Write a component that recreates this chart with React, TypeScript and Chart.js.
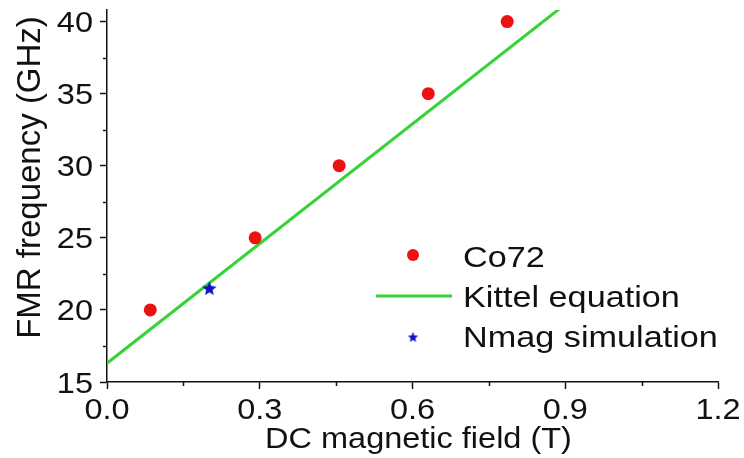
import React, { useEffect, useRef } from "react";
import { Chart, registerables } from "chart.js";

Chart.register(...registerables);

// Measured FMR resonance points for the Co72 sample
const co72Field = [0.085, 0.291, 0.456, 0.631, 0.786];
const co72Freq = [20, 25, 30, 35, 40];

// Kittel fit (straight line across the field range)
const kittelField = [0, 0.9];
const kittelFreq = [16.3, 41.2];

// Micromagnetic simulation point
const nmagField = [0.201];
const nmagFreq = [21.5];

const xTicks = [0, 0.3, 0.6, 0.9, 1.2];
const yTicks = [15, 20, 25, 30, 35, 40];

const seriesNames = ["Co72", "Kittel equation", "Nmag simulation"];
const xTitle = "DC magnetic field (T)";
const yTitle = "FMR frequency (GHz)";

const X_MIN = 0;
const X_MAX = 1.2;
const Y_MIN = 15;
const Y_MAX = 40.8;

const RED = "#ee1111";
const GREEN = "#36d336";
const BLUE = "#1010c8";
const INK = "#111111";
const FONT = '"Liberation Sans", Arial, sans-serif';

function starImage(outer: number, color: string): HTMLCanvasElement {
  const size = Math.ceil(outer * 2 + 2);
  const c = document.createElement("canvas");
  c.width = size;
  c.height = size;
  const g = c.getContext("2d")!;
  const cx = size / 2;
  const cy = size / 2 + outer * 0.08;
  const inner = outer * 0.45;
  g.beginPath();
  for (let i = 0; i < 10; i++) {
    const r = i % 2 === 0 ? outer : inner;
    const a = -Math.PI / 2 + (i * Math.PI) / 5;
    const px = cx + r * Math.cos(a);
    const py = cy + r * Math.sin(a);
    if (i === 0) g.moveTo(px, py);
    else g.lineTo(px, py);
  }
  g.closePath();
  g.fillStyle = color;
  g.fill();
  return c;
}

// Text drawn with a horizontal stretch factor
function drawText(
  ctx: CanvasRenderingContext2D,
  text: string,
  x: number,
  y: number,
  size: number,
  align: CanvasTextAlign,
  sx: number,
  rotate = 0
) {
  ctx.save();
  ctx.translate(x, y);
  if (rotate) ctx.rotate(rotate);
  ctx.scale(sx, 1);
  ctx.font = `${size}px ${FONT}`;
  ctx.fillStyle = INK;
  ctx.textAlign = align;
  ctx.textBaseline = "alphabetic";
  ctx.fillText(text, 0, 0);
  ctx.restore();
}

const decorPlugin = {
  id: "decor",
  afterDraw(chart: any) {
    const ctx: CanvasRenderingContext2D = chart.ctx;
    const xs = chart.scales.x;
    const ys = chart.scales.y;
    const area = chart.chartArea;

    // minor tick marks halfway between major ticks
    ctx.save();
    ctx.strokeStyle = INK;
    ctx.lineWidth = 1.5;
    ctx.beginPath();
    for (let i = 0; i < yTicks.length - 1; i++) {
      const py = Math.round(ys.getPixelForValue((yTicks[i] + yTicks[i + 1]) / 2)) + 0.5;
      ctx.moveTo(area.left - 4, py);
      ctx.lineTo(area.left, py);
    }
    for (let i = 0; i < xTicks.length - 1; i++) {
      const px = Math.round(xs.getPixelForValue((xTicks[i] + xTicks[i + 1]) / 2)) + 0.5;
      ctx.moveTo(px, area.bottom);
      ctx.lineTo(px, area.bottom + 4);
    }
    ctx.stroke();
    ctx.restore();

    // tick labels
    yTicks.forEach((v) => {
      const py = ys.getPixelForValue(v);
      drawText(ctx, String(v), area.left - 14, py + 10.5, 29, "right", 1.12);
    });
    xTicks.forEach((v) => {
      const px = xs.getPixelForValue(v);
      drawText(ctx, v.toFixed(1), px, area.bottom + 37, 29, "center", 1.12);
    });

    // axis titles
    drawText(ctx, xTitle, (area.left + area.right) / 2 + 6, 448, 29, "center", 1.12);
    drawText(ctx, yTitle, 40, (area.top + 345) / 2, 33, "center", 1.0, -Math.PI / 2);

    // legend
    const textX = 463;
    const rows = [257, 297, 337];
    ctx.save();
    ctx.fillStyle = RED;
    ctx.beginPath();
    ctx.arc(413, rows[0] - 2, 6, 0, Math.PI * 2);
    ctx.fill();
    ctx.strokeStyle = GREEN;
    ctx.lineWidth = 3;
    ctx.beginPath();
    ctx.moveTo(376, rows[1] - 1);
    ctx.lineTo(452, rows[1] - 1);
    ctx.stroke();
    const s = starImage(5.5, BLUE);
    ctx.drawImage(s, 413 - s.width / 2, rows[2] - s.height / 2);
    ctx.restore();
    seriesNames.forEach((name, i) => {
      drawText(ctx, name, textX, rows[i] + 10, 29, "left", 1.18);
    });
  },
};

export default function App() {
  const canvasRef = useRef<HTMLCanvasElement | null>(null);

  useEffect(() => {
    const canvas = canvasRef.current;
    if (!canvas) return;
    const starBig = starImage(7.5, BLUE);

    const chart = new Chart(canvas, {
      type: "scatter",
      data: {
        datasets: [
          {
            label: seriesNames[1],
            type: "line",
            data: kittelField.map((x, i) => ({ x, y: kittelFreq[i] })),
            borderColor: GREEN,
            borderWidth: 3,
            pointRadius: 0,
            fill: false,
            clip: 0,
            order: 3,
          } as any,
          {
            label: seriesNames[0],
            data: co72Field.map((x, i) => ({ x, y: co72Freq[i] })),
            backgroundColor: RED,
            borderColor: RED,
            borderWidth: 0,
            pointRadius: 6.5,
            order: 1,
          },
          {
            label: seriesNames[2],
            data: nmagField.map((x, i) => ({ x, y: nmagFreq[i] })),
            pointStyle: starBig,
            backgroundColor: BLUE,
            borderColor: BLUE,
            order: 0,
          } as any,
        ],
      },
      options: {
        responsive: false,
        animation: false,
        events: [],
        layout: { padding: { top: 10, right: 26, left: 0, bottom: 0 } },
        plugins: {
          legend: { display: false },
          tooltip: { enabled: false },
        },
        scales: {
          x: {
            type: "linear",
            min: X_MIN,
            max: X_MAX,
            ticks: { display: false },
            afterBuildTicks: (s: any) => {
              s.ticks = xTicks.map((value) => ({ value }));
            },
            grid: {
              display: true,
              drawOnChartArea: false,
              drawTicks: true,
              tickLength: 7,
              tickWidth: 1.5,
              tickColor: INK,
            },
            border: { display: true, color: INK, width: 1.5 },
            afterFit: (s: any) => {
              s.height = 76;
            },
          },
          y: {
            type: "linear",
            min: Y_MIN,
            max: Y_MAX,
            ticks: { display: false },
            afterBuildTicks: (s: any) => {
              s.ticks = yTicks.map((value) => ({ value }));
            },
            grid: {
              display: true,
              drawOnChartArea: false,
              drawTicks: true,
              tickLength: 7,
              tickWidth: 1.5,
              tickColor: INK,
            },
            border: { display: true, color: INK, width: 1.5 },
            afterFit: (s: any) => {
              s.width = 107;
            },
          },
        },
      },
      plugins: [decorPlugin],
    });

    return () => chart.destroy();
  }, []);

  return (
    <div style={{ position: "fixed", left: 0, top: 0, width: 744, height: 458, background: "#fff" }}>
      <canvas ref={canvasRef} width={744} height={458} style={{ display: "block" }} />
    </div>
  );
}
